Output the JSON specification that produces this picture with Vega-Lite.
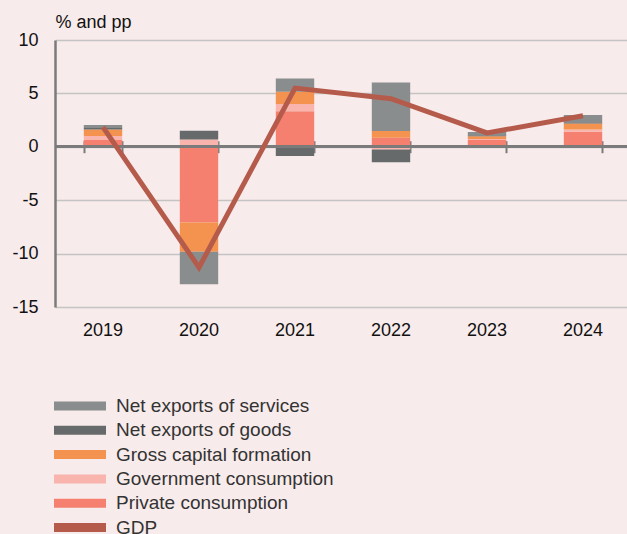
{
  "$schema": "https://vega.github.io/schema/vega-lite/v6.json",
  "autosize": "none",
  "width": 576,
  "height": 267,
  "padding": {"left": 55, "top": 40, "right": 0, "bottom": 227},
  "background": "#f8ebeb",
  "config": {
    "view": {"stroke": null},
    "font": "Liberation Sans",
    "axis": {"labelFont": "Liberation Sans", "titleFont": "Liberation Sans"}
  },
  "data": {
    "values": [
      {"year": "2019", "component": "Private consumption", "value": 0.63},
      {"year": "2019", "component": "Government consumption", "value": 0.37},
      {"year": "2019", "component": "Gross capital formation", "value": 0.63},
      {"year": "2019", "component": "Net exports of goods", "value": 0.2},
      {"year": "2019", "component": "Net exports of services", "value": 0.2},
      {"year": "2019", "component": "GDP", "value": 1.85},
      {"year": "2020", "component": "Private consumption", "value": -7.08},
      {"year": "2020", "component": "Government consumption", "value": 0.69},
      {"year": "2020", "component": "Gross capital formation", "value": -2.75},
      {"year": "2020", "component": "Net exports of goods", "value": 0.81},
      {"year": "2020", "component": "Net exports of services", "value": -3.03},
      {"year": "2020", "component": "GDP", "value": -11.3},
      {"year": "2021", "component": "Private consumption", "value": 3.34},
      {"year": "2021", "component": "Government consumption", "value": 0.66},
      {"year": "2021", "component": "Gross capital formation", "value": 1.15},
      {"year": "2021", "component": "Net exports of goods", "value": -0.85},
      {"year": "2021", "component": "Net exports of services", "value": 1.25},
      {"year": "2021", "component": "GDP", "value": 5.5},
      {"year": "2022", "component": "Private consumption", "value": 0.84},
      {"year": "2022", "component": "Government consumption", "value": -0.25},
      {"year": "2022", "component": "Gross capital formation", "value": 0.63},
      {"year": "2022", "component": "Net exports of goods", "value": -1.2},
      {"year": "2022", "component": "Net exports of services", "value": 4.56},
      {"year": "2022", "component": "GDP", "value": 4.5},
      {"year": "2023", "component": "Private consumption", "value": 0.69},
      {"year": "2023", "component": "Government consumption", "value": 0.05},
      {"year": "2023", "component": "Gross capital formation", "value": 0.25},
      {"year": "2023", "component": "Net exports of goods", "value": 0.1},
      {"year": "2023", "component": "Net exports of services", "value": 0.3},
      {"year": "2023", "component": "GDP", "value": 1.3},
      {"year": "2024", "component": "Private consumption", "value": 1.4},
      {"year": "2024", "component": "Government consumption", "value": 0.23},
      {"year": "2024", "component": "Gross capital formation", "value": 0.56},
      {"year": "2024", "component": "Net exports of goods", "value": 0.1},
      {"year": "2024", "component": "Net exports of services", "value": 0.68},
      {"year": "2024", "component": "GDP", "value": 2.9}
    ]
  },
  "resolve": {"axis": {"x": "independent"}},
  "layer": [
    {
      "transform": [
        {"filter": "datum.component !== 'GDP'"},
        {"calculate": "indexof(['Private consumption','Government consumption','Gross capital formation','Net exports of goods','Net exports of services'], datum.component)", "as": "stackIdx"}
      ],
      "mark": {"type": "bar"},
      "encoding": {
        "x": {
          "field": "year", "type": "nominal",
          "scale": {"paddingInner": 0.6, "paddingOuter": 0.3},
          "axis": {"title": null, "labelAngle": 0, "domain": false, "ticks": false, "labelFontSize": 18, "labelColor": "#111", "labelPadding": 14, "grid": false}
        },
        "y": {
          "field": "value", "type": "quantitative", "stack": "zero",
          "scale": {"domain": [-15, 10], "nice": false, "zero": false},
          "axis": {
            "values": [-15, -10, -5, 0, 5, 10],
            "labelExpr": "datum.value < 0 ? '-' + abs(datum.value) : '' + datum.value",
            "title": "% and pp", "titleAngle": 0, "titleAlign": "left", "titleBaseline": "alphabetic",
            "titleX": 0, "titleY": -12.5, "titleFontSize": 18, "titleFontWeight": "normal", "titleColor": "#111",
            "labelFontSize": 18, "labelColor": "#111", "labelPadding": 17,
            "ticks": false, "domainColor": "#7b7b7b", "domainWidth": 2.5,
            "grid": true, "gridColor": "#c4c4c4", "gridWidth": 1.5
          }
        },
        "color": {
          "field": "component", "type": "nominal",
          "scale": {
            "domain": ["Net exports of services", "Net exports of goods", "Gross capital formation", "Government consumption", "Private consumption", "GDP"],
            "range": ["#8a8d8d", "#666a6b", "#f4934f", "#f9b4ae", "#f5806f", "#b55b4b"]
          },
          "legend": {
            "title": null, "orient": "none", "legendX": -1, "legendY": 356,
            "symbolType": "M-1,-0.45H4.2V0.45H-1Z", "symbolSize": 400,
            "symbolStrokeWidth": 0, "labelFontSize": 19, "labelColor": "#333",
            "labelOffset": 42, "rowPadding": 4.3, "labelLimit": 400,
            "encode": {"symbols": {"update": {"fill": {"scale": "color", "field": "value"}, "stroke": {"value": "transparent"}, "opacity": {"value": 1}}}}
          }
        },
        "order": {"field": "stackIdx", "type": "quantitative"}
      }
    },
    {
      "mark": {"type": "rule", "color": "#7b7b7b", "strokeWidth": 2.5},
      "encoding": {"y": {"datum": 0}}
    },
    {
      "transform": [{"filter": "datum.component === 'GDP'"}],
      "mark": {"type": "line", "strokeWidth": 5, "strokeJoin": "miter", "strokeCap": "butt"},
      "encoding": {
        "x": {
          "field": "year", "type": "nominal",
          "axis": {"title": null, "orient": "bottom", "offset": -166.3, "domain": false, "labels": false, "ticks": true, "tickBand": "extent", "tickSize": 12, "tickColor": "#7b7b7b", "tickWidth": 2, "grid": false}
        },
        "y": {"field": "value", "type": "quantitative"},
        "color": {"field": "component", "type": "nominal"}
      }
    }
  ]
}
